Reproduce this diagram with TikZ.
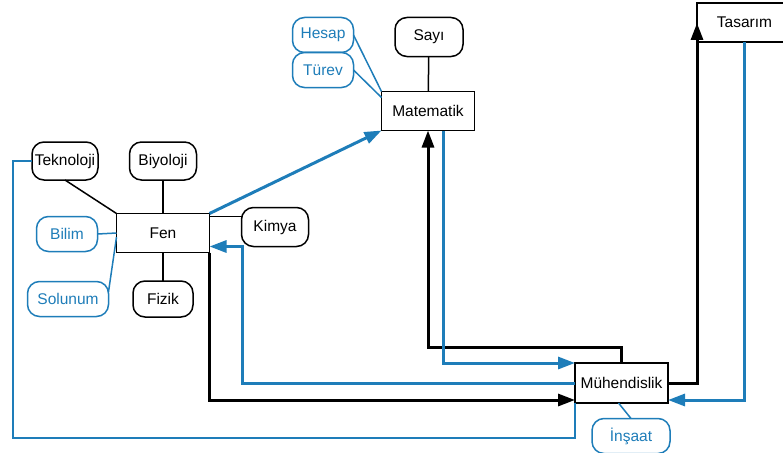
\documentclass[tikz,border=0pt]{standalone}
\usepackage{fontspec}
\setmainfont{Liberation Sans}
\usepackage{xcolor}
\usepackage{tikz}
\usetikzlibrary{calc}
\usetikzlibrary{positioning}
\usetikzlibrary{arrows.meta}

\definecolor{linkblue}{RGB}{30,125,185}

\begin{document}
\begin{tikzpicture}[
    x = 1pt,
    y = -1pt,
    font = \fontsize{15.5}{18}\selectfont,
    fieldf/.style = {
      rectangle,
      draw=black,
      line width=1.5pt,
      fill=white,
      minimum width=93pt,
      minimum height=39pt,
      inner sep=0pt,
      outer sep=0pt
    },
    topicf/.style = {
      rectangle,
      draw=black,
      rounded corners=12pt,
      line width=1.5pt,
      fill=white,
      minimum height=38pt,
      inner sep=0pt,
      outer sep=0pt
    },
    subf/.style = {
      topicf,
      draw=linkblue,
      text=linkblue,
      minimum height=35pt
    },
    linka/.style = {
      draw=black,
      line width=1.5pt
    },
    linkb/.style = {
      draw=linkblue,
      line width=1.5pt
    },
    flowa/.style = {
      draw=black,
      line width=3pt,
      -{Triangle[length=17pt,width=12pt]}
    },
    flowb/.style = {
      flowa,
      draw=linkblue
    }
  ]
    \useasboundingbox (0,0) rectangle (783,452);
    % main fields
    \node[fieldf] (fen) at (163,233) {Fen};
    \node[fieldf] (mat) at (428,111) {Matematik};
    \node[fieldf, minimum height=40pt] (muh) at (621.5,383) {Mühendislik};
    \node[fieldf, minimum width=95pt] (tas) at (744.5,22.5) {Tasarım};
    % topics
    \node[topicf, minimum width=68pt, minimum height=39pt] (sayi) at (429,37) {Sayı};
    \node[subf, minimum width=61pt] (hesap) at (323,35) {Hesap};
    \node[subf, minimum width=61pt] (turev) [below=0pt of hesap] {Türev};
    \node[topicf, minimum width=66pt] (tek) at (65,161) {Teknoloji};
    \node[topicf, minimum width=67pt] (biy) at (163,161) {Biyoloji};
    \node[topicf, minimum width=67pt, minimum height=39pt] (kim) at (275,227) {Kimya};
    \node[subf, minimum width=61pt] (bilim) at (67,234) {Bilim};
    \node[subf, minimum width=81pt] (sol) at (68,299) {Solunum};
    \node[topicf, minimum width=60pt, minimum height=36pt] (fiz) at (163,299) {Fizik};
    \node[subf, minimum width=78pt] (ins) at (631,436) {İnşaat};
    \coordinate (lowleft) at (13,438);
    % thin links
    \draw[linka] (sayi) -- (mat);
    \draw[linkb] (hesap.east) -- (mat.north west);
    \draw[linkb] (turev.east) -- ([yshift=-6pt]mat.north west);
    \draw[linka] (tek.south) -- (fen.north west);
    \draw[linka] (biy) -- (fen);
    \draw[linka] (fiz) -- (fen);
    \draw[linkb] (bilim.east) -- (fen.west);
    \draw[linkb] (sol.10) -- ([yshift=-4pt]fen.west);
    \draw[linka] ([yshift=-3pt]fen.north east) -- ([yshift=-3pt]fen.north east -| kim.west);
    \draw[linkb] ([xshift=-3pt]muh.south) -- (ins.north);
    \draw[linkb] (muh.south west) |- (lowleft) |- (tek.west);
    % flows
    \draw[flowb] (fen.north east) -- (mat.south west);
    \draw[flowa] (muh.north) -- ++(0,-16) -| (mat.south);
    \draw[flowb] ([xshift=15pt]mat.south) |- (muh.north west);
    \draw[flowb] (muh.west) -- ++(-333,0) |- ([yshift=6pt]fen.south east);
    \draw[flowa] (fen.south east) |- ([yshift=3pt]muh.south west);
    \draw[flowa] (muh.east) -| ([yshift=-20pt]tas.north west);
    \draw[flowb] (tas.south) |- ([yshift=3pt]muh.south east);
  \end{tikzpicture}
\end{document}
